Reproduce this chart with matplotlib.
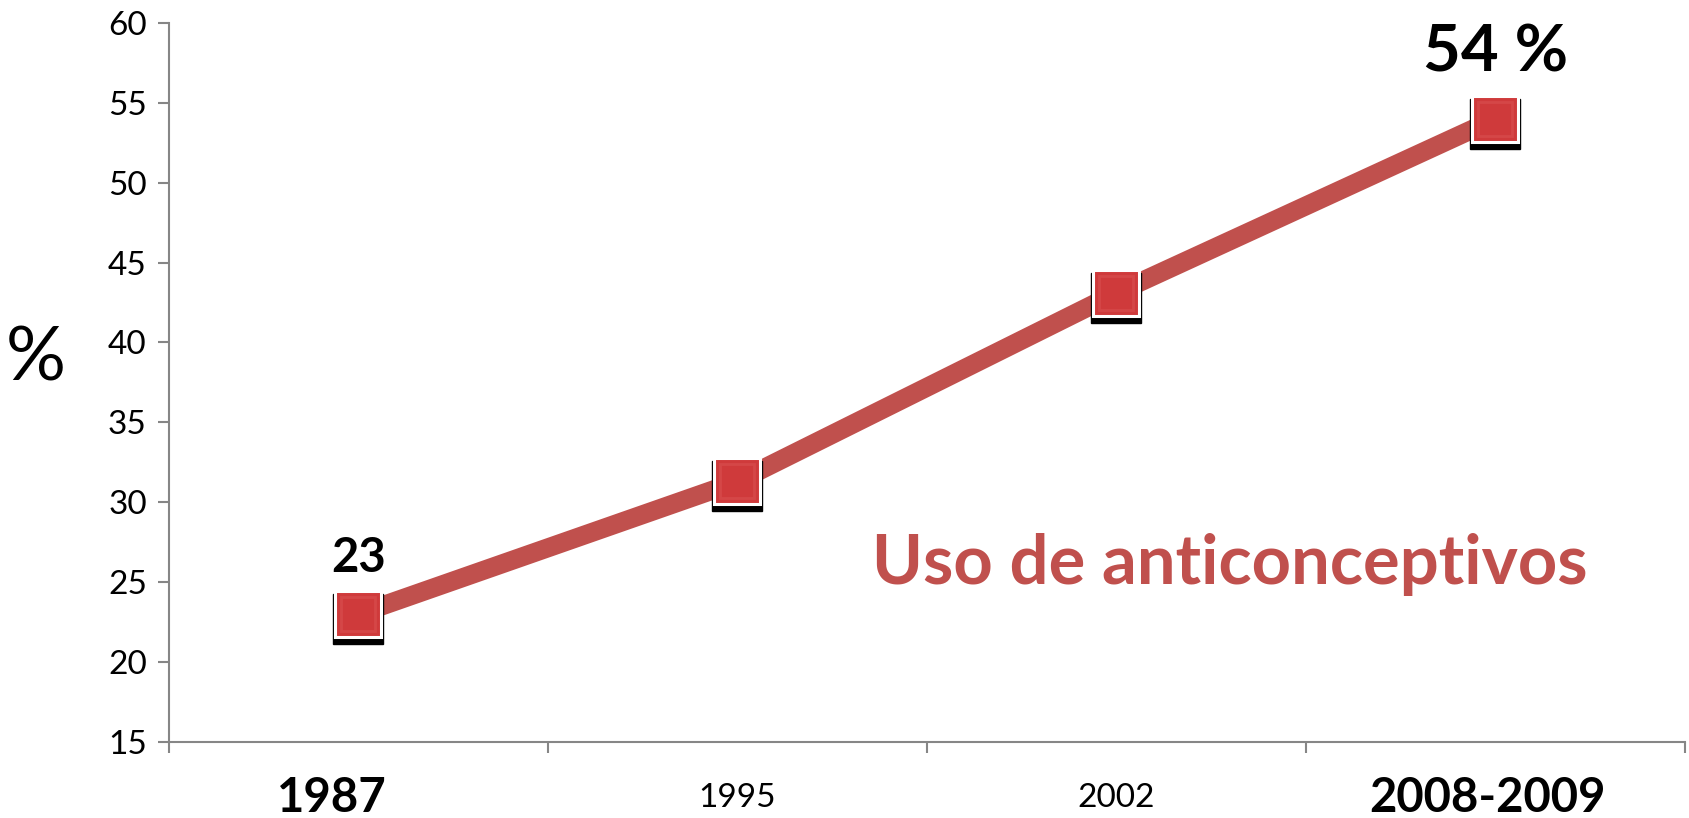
import matplotlib.pyplot as plt
import matplotlib.transforms as mtransforms
import numpy as np

plt.rcParams['font.family'] = ['Lato', 'DejaVu Sans']

# data
years = ['1987', '1995', '2002', '2008-2009']
uso = [23, 31.3, 43.1, 54]
bold_year = [True, False, False, True]
label_shift = [-0.07, 0, 0, -0.02]

red = '#C0504D'
grey = '#868686'

fig = plt.figure(figsize=(16.9, 8.18), dpi=100)
ax = fig.add_axes([0.1, 0.093, 0.897, 0.879])

x = np.arange(len(years))
ax.plot(x, uso, color=red, lw=13.7, solid_capstyle='butt', zorder=2)

# shadow under the markers
shadow = mtransforms.offset_copy(ax.transData, fig=fig, x=0, y=-5, units='dots')
ax.plot(x, uso, ls='none', marker='s', ms=36, color='black', transform=shadow, zorder=3)
ax.plot(x, uso, ls='none', marker='s', ms=33, mfc='#CF3A3B', mec='white', mew=2.2, zorder=4)
ax.plot(x, uso, ls='none', marker='s', ms=24, mfc='none', mec='#E06060', mew=2, alpha=0.35, zorder=5)

ax.set_xlim(-0.5, 3.5)
ax.set_ylim(15, 60)
ax.set_yticks(range(15, 61, 5))
ax.tick_params(axis='y', labelsize=24, length=8, width=1.5, color=grey, pad=8)

ax.set_xticks(x)
ax.set_xticklabels([])
ax.set_xticks(np.arange(-0.5, 4, 1), minor=True)
ax.tick_params(axis='x', which='major', length=0)
ax.tick_params(axis='x', which='minor', length=8, width=1.5, color=grey)
for xi, lab, b, dx in zip(x, years, bold_year, label_shift):
    if b:
        ax.text(xi + dx, -0.078, lab, transform=ax.get_xaxis_transform(), ha='center', va='center',
                fontsize=34, fontweight='bold')
    else:
        ax.text(xi + dx, -0.078, lab, transform=ax.get_xaxis_transform(), ha='center', va='center',
                fontsize=24)

for s in ['top', 'right']:
    ax.spines[s].set_visible(False)
for s in ['left', 'bottom']:
    ax.spines[s].set_color(grey)
    ax.spines[s].set_linewidth(1.5)

ax.text(x[0], uso[0] + 3.5, '23', ha='center', va='center', fontsize=34, fontweight='bold')
ax.text(x[-1], uso[-1] + 4.1, '54 %', ha='center', va='center', fontsize=47, fontweight='bold')
ax.text(2.30, 26.1, 'Uso de anticonceptivos', ha='center', va='center', fontsize=49.5,
        fontweight='bold', color=red)
fig.text(0.021, 0.561, '%', ha='center', va='center', fontsize=54)

fig.savefig('out.png', dpi=100)
